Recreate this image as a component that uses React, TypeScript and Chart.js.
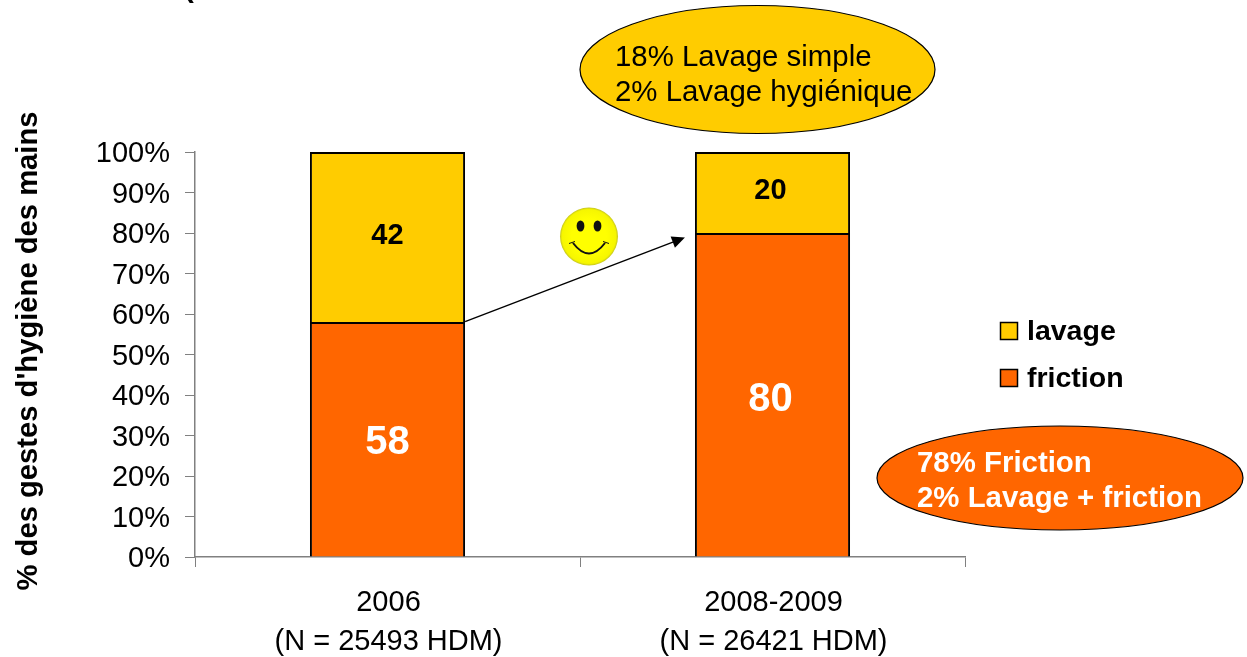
import React, { useEffect, useRef } from "react";
import { Chart, registerables } from "chart.js";

Chart.register(...registerables);

const categories: string[][] = [["2006", "(N = 25493 HDM)"], ["2008-2009", "(N = 26421 HDM)"]];
const friction = [58, 80];
const lavage = [42, 20];
const frictionColor = "#FF6600";
const lavageColor = "#FFCC00";
const yAxisTitle = "% des gestes d'hygiène des mains";
const lavageNote = ["18% Lavage simple", "2% Lavage hygiénique"];
const frictionNote = ["78% Friction", "2% Lavage + friction"];
const clippedTitleFragment = "(";
const FONT = '"Liberation Sans", Arial, sans-serif';

const PLOT = { left: 195, right: 965, top: 153, bottom: 557 };

const overlay = {
  id: "overlay",
  afterDatasetsDraw(chart: any) {
    const { ctx, scales } = chart;
    const y = scales.y;
    ctx.save();

    // bar value labels
    ctx.textAlign = "center";
    ctx.textBaseline = "middle";
    chart.data.datasets.forEach((ds: any, di: number) => {
      const meta = chart.getDatasetMeta(di);
      meta.data.forEach((bar: any, i: number) => {
        const mid = (bar.y + bar.base) / 2;
        const isFriction = di === 0;
        ctx.fillStyle = isFriction ? "#FFFFFF" : "#000000";
        ctx.font = `bold ${isFriction ? 40 : 29}px ${FONT}`;
        const dy = isFriction ? (i === 0 ? 4 : 5) : (i === 0 ? -1 : -2);
        ctx.fillText(String(ds.data[i]), bar.x + (i === 0 ? 0 : -2), mid + dy);
      });
    });

    // arrow between the two friction tops
    const bar0 = chart.getDatasetMeta(0).data[0];
    const bar1 = chart.getDatasetMeta(0).data[1];
    const ax = bar0.x + bar0.width / 2;
    const ay = y.getPixelForValue(friction[0]) - 0.5;
    const bx = bar1.x - bar1.width / 2 - 10;
    const by = y.getPixelForValue(friction[1]) + 4.5;
    const ang = Math.atan2(by - ay, bx - ax);
    const cos = Math.cos(ang);
    const sin = Math.sin(ang);
    ctx.strokeStyle = "#000";
    ctx.lineWidth = 1.4;
    ctx.beginPath();
    ctx.moveTo(ax, ay);
    ctx.lineTo(bx - 8 * cos, by - 8 * sin);
    ctx.stroke();
    ctx.fillStyle = "#000";
    ctx.beginPath();
    ctx.moveTo(bx, by);
    ctx.lineTo(bx - 13 * cos + 6 * sin, by - 13 * sin - 6 * cos);
    ctx.lineTo(bx - 13 * cos - 6 * sin, by - 13 * sin + 6 * cos);
    ctx.closePath();
    ctx.fill();

    // smiley
    const sx = 589, sy = 236.5, sr = 29;
    const grad = ctx.createRadialGradient(sx, sy, sr * 0.6, sx, sy, sr);
    grad.addColorStop(0, "#FFFF00");
    grad.addColorStop(0.82, "#F6F600");
    grad.addColorStop(1, "#C4C420");
    ctx.fillStyle = grad;
    ctx.beginPath();
    ctx.arc(sx, sy, sr, 0, Math.PI * 2);
    ctx.fill();
    ctx.fillStyle = "#111";
    for (const ex of [-8.5, 8.5]) {
      ctx.beginPath();
      ctx.ellipse(sx + ex, sy - 10.5, 3.9, 5.6, 0, 0, Math.PI * 2);
      ctx.fill();
    }
    ctx.strokeStyle = "#111";
    ctx.lineWidth = 2;
    ctx.beginPath();
    ctx.moveTo(sx - 16, sy + 6.5);
    ctx.quadraticCurveTo(sx, sy + 27.5, sx + 16, sy + 6.5);
    ctx.stroke();
    ctx.lineWidth = 1;
    for (const d of [-1, 1]) {
      ctx.beginPath();
      ctx.moveTo(sx + d * 20, sy + 7);
      ctx.lineTo(sx + d * 14, sy + 5);
      ctx.stroke();
    }

    // note ellipses
    const note = (cx: number, cy: number, rx: number, ry: number, fill: string) => {
      ctx.fillStyle = fill;
      ctx.strokeStyle = "#000";
      ctx.lineWidth = 1.2;
      ctx.beginPath();
      ctx.ellipse(cx, cy, rx, ry, 0, 0, Math.PI * 2);
      ctx.fill();
      ctx.stroke();
    };
    note(757.5, 69.5, 177.5, 64, lavageColor);
    note(1060, 478, 183, 52, frictionColor);

    ctx.textAlign = "left";
    ctx.textBaseline = "middle";
    ctx.fillStyle = "#000";
    ctx.font = `29.4px ${FONT}`;
    ctx.fillText(lavageNote[0], 615, 58);
    ctx.fillText(lavageNote[1], 615, 93);
    ctx.fillStyle = "#FFF";
    ctx.font = `bold 29.4px ${FONT}`;
    ctx.fillText(frictionNote[0], 917, 464);
    ctx.fillText(frictionNote[1], 917, 499);

    // clipped remnant of the slide title, at the very top edge
    ctx.fillStyle = "#000";
    ctx.textBaseline = "alphabetic";
    ctx.fillText(clippedTitleFragment, 184, -3);
    ctx.textBaseline = "middle";

    // legend
    const legend = [
      { label: chart.data.datasets[1].label, color: lavageColor, y: 331 },
      { label: chart.data.datasets[0].label, color: frictionColor, y: 378 },
    ];
    for (const item of legend) {
      ctx.fillStyle = item.color;
      ctx.strokeStyle = "#000";
      ctx.lineWidth = 1.5;
      ctx.fillRect(1000.5, item.y - 8.5, 17, 17);
      ctx.strokeRect(1000.5, item.y - 8.5, 17, 17);
      ctx.fillStyle = "#000";
      ctx.font = `bold 28.5px ${FONT}`;
      ctx.fillText(item.label, 1027, item.y + 1);
    }

    // rotated axis title
    ctx.translate(29, 351);
    ctx.rotate(-Math.PI / 2);
    ctx.textAlign = "center";
    ctx.fillStyle = "#000";
    ctx.font = `bold 29.2px ${FONT}`;
    ctx.fillText(yAxisTitle, 0, 0);
    ctx.restore();
  },
};

export default function App() {
  const ref = useRef<HTMLCanvasElement>(null);
  useEffect(() => {
    document.body.style.margin = "0";
    document.body.style.background = "#FFFFFF";
    const chart = new Chart(ref.current!, {
      type: "bar",
      data: {
        labels: categories,
        datasets: [
          { label: "friction", data: friction, backgroundColor: frictionColor, borderColor: "#000", borderWidth: 2, categoryPercentage: 0.403, barPercentage: 1 },
          { label: "lavage", data: lavage, backgroundColor: lavageColor, borderColor: "#000", borderWidth: 2, categoryPercentage: 0.403, barPercentage: 1 },
        ],
      },
      options: {
        responsive: false,
        animation: false,
        layout: { padding: { left: 0, right: 1247 - PLOT.right, top: PLOT.top - 1, bottom: 0 } },
        plugins: { legend: { display: false }, tooltip: { enabled: false } },
        scales: {
          x: {
            stacked: true,
            grid: { display: true, drawOnChartArea: false, drawTicks: true, tickLength: 10, color: "#808080", offset: true },
            border: { color: "#808080", width: 1.5 },
            ticks: { color: "#000", font: { family: FONT, size: 29, lineHeight: 1.35 }, padding: 16, maxRotation: 0, labelOffset: 1 },
            afterFit(s: any) { s.height = 657 - PLOT.bottom; },
          },
          y: {
            stacked: true,
            min: 0,
            max: 100,
            grid: { display: true, drawOnChartArea: false, drawTicks: true, tickLength: 10, color: "#808080" },
            border: { color: "#808080", width: 1.5 },
            ticks: { stepSize: 10, color: "#000", font: { family: FONT, size: 29 }, padding: 15, labelOffset: 2, callback: (v: any) => v + "%", autoSkip: false },
            afterFit(s: any) { s.width = PLOT.left; },
          },
        },
      },
      plugins: [overlay],
    } as any);
    return () => chart.destroy();
  }, []);
  return <canvas ref={ref} width={1247} height={657} style={{ display: "block" }} />;
}
